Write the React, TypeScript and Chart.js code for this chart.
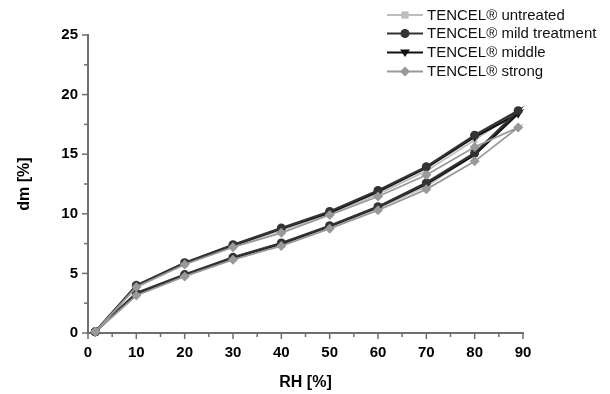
import React, { useEffect, useRef } from "react";
import { Chart, registerables } from "chart.js";

Chart.register(...registerables);

const X_ADS = [1.5, 10, 20, 30, 40, 50, 60, 70, 80, 89];
const X_DES = [80, 70, 60, 50, 40, 30, 20, 10, 1.5];

const SERIES_NAMES = [
  "TENCEL® untreated",
  "TENCEL® mild treatment",
  "TENCEL® middle",
  "TENCEL® strong",
];

const UNTREATED_ADS = [0.1, 3.2, 4.8, 6.2, 7.4, 8.85, 10.45, 12.3, 15.0, 18.6];
const UNTREATED_DES = [16.2, 13.6, 11.65, 10.0, 8.6, 7.3, 5.8, 3.9, 0.1];
const MILD_ADS = [0.1, 3.35, 4.9, 6.35, 7.55, 9.0, 10.6, 12.6, 15.1, 18.65];
const MILD_DES = [16.6, 13.95, 11.95, 10.2, 8.8, 7.4, 5.9, 4.0, 0.1];
const MIDDLE_ADS = [0.1, 3.3, 4.85, 6.3, 7.5, 8.95, 10.55, 12.5, 14.95, 18.4];
const MIDDLE_DES = [16.45, 13.85, 11.85, 10.1, 8.75, 7.35, 5.85, 3.95, 0.1];
const STRONG_ADS = [0.1, 3.15, 4.75, 6.15, 7.3, 8.75, 10.3, 12.05, 14.4, 17.25];
const STRONG_DES = [15.6, 13.25, 11.45, 9.9, 8.4, 7.2, 5.75, 3.85, 0.1];

const X_TICKS = [0, 10, 20, 30, 40, 50, 60, 70, 80, 90];
const Y_TICKS = [0, 5, 10, 15, 20, 25];

const STYLES = [
  { color: "#bdbdbd", marker: "rect", radius: 4, rot: 0, width: 1.8, order: 3 },
  { color: "#333333", marker: "circle", radius: 4.5, rot: 0, width: 2.2, order: 1 },
  { color: "#111111", marker: "triangle", radius: 5, rot: 180, width: 2.2, order: 2 },
  { color: "#999999", marker: "rectRot", radius: 5, rot: 0, width: 1.8, order: 0 },
];

function loop(ads: number[], des: number[]) {
  return X_ADS.map((x, i) => ({ x, y: ads[i] })).concat(
    X_DES.map((x, i) => ({ x, y: des[i] }))
  );
}

function drawMarker(ctx: CanvasRenderingContext2D, type: string, x: number, y: number, r: number, color: string) {
  ctx.save();
  ctx.fillStyle = color;
  ctx.strokeStyle = color;
  ctx.beginPath();
  if (type === "circle") {
    ctx.arc(x, y, r, 0, Math.PI * 2);
  } else if (type === "rect") {
    const s = r * 0.9;
    ctx.rect(x - s, y - s, 2 * s, 2 * s);
  } else if (type === "rectRot") {
    ctx.moveTo(x, y - r);
    ctx.lineTo(x + r, y);
    ctx.lineTo(x, y + r);
    ctx.lineTo(x - r, y);
    ctx.closePath();
  } else if (type === "triangle") {
    ctx.moveTo(x - r, y - r * 0.6);
    ctx.lineTo(x + r, y - r * 0.6);
    ctx.lineTo(x, y + r * 0.9);
    ctx.closePath();
  }
  ctx.fill();
  ctx.restore();
}

const extrasPlugin = {
  id: "extras",
  afterDraw(chart: any) {
    const ctx: CanvasRenderingContext2D = chart.ctx;
    const xs = chart.scales.x;
    const ys = chart.scales.y;
    const area = chart.chartArea;
    ctx.save();
    ctx.strokeStyle = "#6e6e6e";
    ctx.lineWidth = 1.5;
    for (let v = 0; v <= 90; v += 5) {
      const px = xs.getPixelForValue(v);
      const len = v % 10 === 0 ? 6 : 4;
      ctx.beginPath();
      ctx.moveTo(px, area.bottom);
      ctx.lineTo(px, area.bottom + len);
      ctx.stroke();
    }
    for (let v = 0; v <= 25; v += 2.5) {
      const py = ys.getPixelForValue(v);
      const len = v % 5 === 0 ? 6 : 4;
      ctx.beginPath();
      ctx.moveTo(area.left, py);
      ctx.lineTo(area.left - len, py);
      ctx.stroke();
    }
    const rows = [15, 33.5, 52.5, 71.5];
    ctx.font = "15px 'Liberation Sans', Arial, sans-serif";
    ctx.textBaseline = "middle";
    ctx.textAlign = "left";
    SERIES_NAMES.forEach((name, i) => {
      const st = STYLES[i];
      const y = rows[i];
      ctx.strokeStyle = st.color;
      ctx.lineWidth = st.width;
      ctx.beginPath();
      ctx.moveTo(387, y);
      ctx.lineTo(423, y);
      ctx.stroke();
      drawMarker(ctx, st.marker, 405, y, st.radius, st.color);
      ctx.fillStyle = "#111";
      ctx.fillText(name, 427, y + 0.5);
    });
    ctx.restore();
  },
};

export default function App() {
  const ref = useRef<HTMLCanvasElement>(null);
  useEffect(() => {
    document.body.style.margin = "0";
    const canvas = ref.current!;
    const seriesData = [
      loop(UNTREATED_ADS, UNTREATED_DES),
      loop(MILD_ADS, MILD_DES),
      loop(MIDDLE_ADS, MIDDLE_DES),
      loop(STRONG_ADS, STRONG_DES),
    ];
    const chart = new Chart(canvas, {
      type: "scatter",
      data: {
        datasets: SERIES_NAMES.map((name, i) => ({
          label: name,
          data: seriesData[i],
          showLine: true,
          borderColor: STYLES[i].color,
          backgroundColor: STYLES[i].color,
          borderWidth: STYLES[i].width,
          pointStyle: STYLES[i].marker as any,
          pointRotation: STYLES[i].rot,
          pointRadius: STYLES[i].radius,
          pointBorderWidth: 0,
          pointBackgroundColor: STYLES[i].color,
          order: STYLES[i].order,
          clip: false as any,
        })),
      },
      options: {
        animation: false,
        responsive: false,
        devicePixelRatio: 1,
        layout: { padding: { left: 0, right: 87, top: 35, bottom: 0 } },
        plugins: { legend: { display: false }, tooltip: { enabled: false } },
        scales: {
          x: {
            type: "linear",
            min: 0,
            max: 90,
            afterFit: (s: any) => {
              s.height = 61;
            },
            afterBuildTicks: (s: any) => {
              s.ticks = X_TICKS.map((v) => ({ value: v }));
            },
            ticks: {
              color: "#000",
              padding: 11,
              maxRotation: 0,
              font: { family: "'Liberation Sans', Arial, sans-serif", size: 15, weight: "bold" },
            },
            grid: { display: true, drawOnChartArea: false, drawTicks: false },
            border: { display: true, color: "#6e6e6e", width: 2 },
            title: {
              display: true,
              text: "RH [%]",
              color: "#000",
              padding: { top: 0, bottom: 1.5 },
              font: { family: "'Liberation Sans', Arial, sans-serif", size: 16, weight: "bold", lineHeight: 1.2 },
            },
          },
          y: {
            type: "linear",
            min: 0,
            max: 25,
            afterFit: (s: any) => {
              s.width = 88;
            },
            afterBuildTicks: (s: any) => {
              s.ticks = Y_TICKS.map((v) => ({ value: v }));
            },
            ticks: {
              color: "#000",
              padding: 10,
              font: { family: "'Liberation Sans', Arial, sans-serif", size: 15, weight: "bold" },
            },
            grid: { display: true, drawOnChartArea: false, drawTicks: false },
            border: { display: true, color: "#6e6e6e", width: 2 },
            title: {
              display: true,
              text: "dm [%]",
              color: "#000",
              padding: { top: 15, bottom: 0 },
              font: { family: "'Liberation Sans', Arial, sans-serif", size: 16, weight: "bold", lineHeight: 1.2 },
            },
          },
        },
      },
      plugins: [extrasPlugin],
    });
    return () => chart.destroy();
  }, []);
  return (
    <div style={{ width: 610, height: 394 }}>
      <canvas ref={ref} width={610} height={394} style={{ display: "block" }} />
    </div>
  );
}
